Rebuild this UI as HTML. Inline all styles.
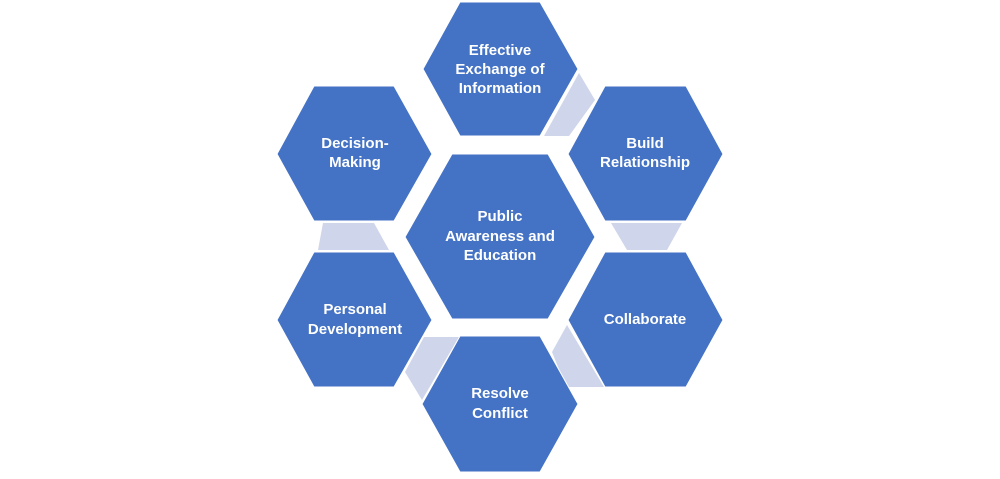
<!DOCTYPE html>
<html><head><style>
html,body{margin:0;padding:0;background:#fff;}
svg text{font-family:"Liberation Sans",sans-serif;font-weight:bold;font-size:15px;fill:#fff;text-anchor:middle;}
</style></head><body>
<svg width="1000" height="474" viewBox="0 0 1000 474" xmlns="http://www.w3.org/2000/svg">
<g fill="#CFD5EA">
<polygon points="579,73 595,100 569,136 544,136"/>
<polygon points="611,223 682,223 667,250 627,250"/>
<polygon points="323,223 374,223 389,250 318,250"/>
<polygon points="424,337 459,337 422,400 405,372"/>
<polygon points="552,352 567,325 604,387 566,387"/>
</g>
<g fill="#4472C4" stroke="#fff" stroke-width="1">
<polygon points="460,2 540,2 578,69 540,136 460,136 423,69"/>
<polygon points="605,86 686,86 723,154 686,221 605,221 568,154"/>
<polygon points="314,86 394,86 432,154 394,221 314,221 277,154"/>
<polygon points="452,154 548,154 595,237 548,319 452,319 405,237"/>
<polygon points="314,252 394,252 432,320 394,387 314,387 277,320"/>
<polygon points="605,252 686,252 723,320 686,387 605,387 568,320"/>
<polygon points="460,336 540,336 578,404 540,472 460,472 422,404"/>
</g>
<text x="500" y="55">Effective</text>
<text x="500" y="74">Exchange of</text>
<text x="500" y="93">Information</text>
<text x="645" y="148">Build</text>
<text x="645" y="167">Relationship</text>
<text x="355" y="148">Decision-</text>
<text x="355" y="167">Making</text>
<text x="500" y="221">Public</text>
<text x="500" y="241">Awareness and</text>
<text x="500" y="260">Education</text>
<text x="355" y="314">Personal</text>
<text x="355" y="334">Development</text>
<text x="645" y="324">Collaborate</text>
<text x="500" y="398">Resolve</text>
<text x="500" y="418">Conflict</text>
</svg>
</body></html>
